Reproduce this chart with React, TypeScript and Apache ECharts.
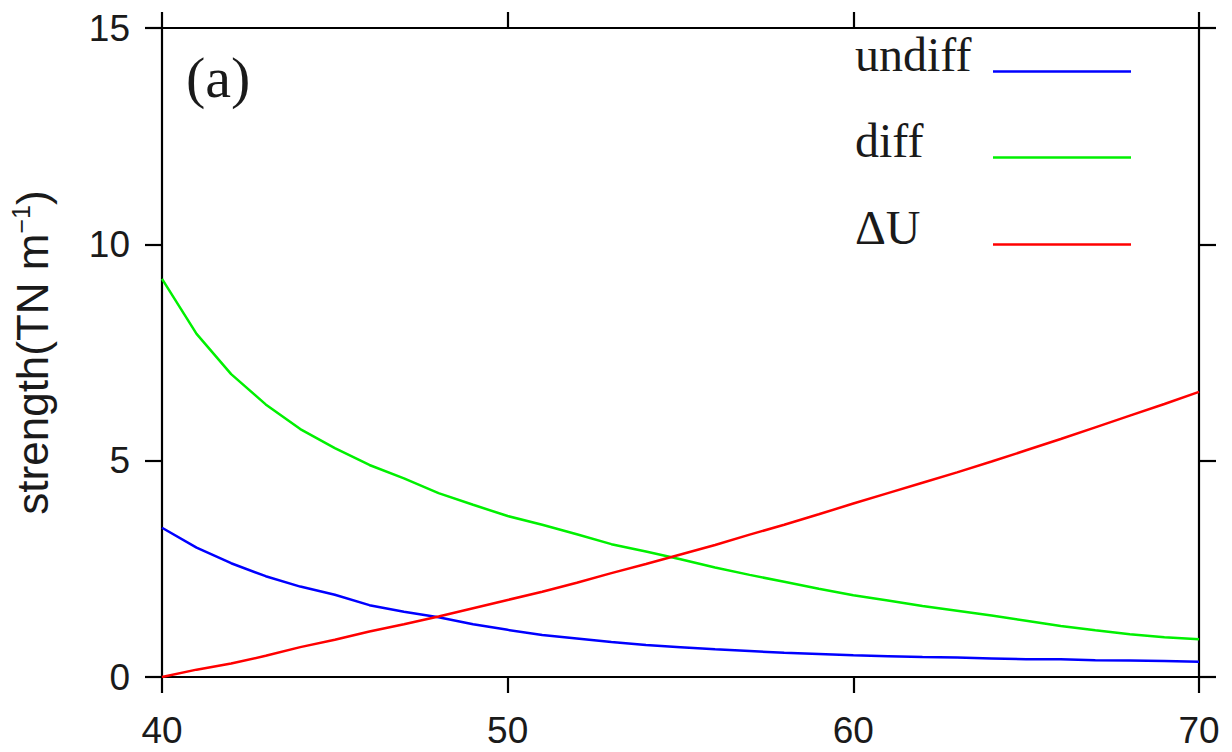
import React, { useEffect, useRef } from "react";
import * as echarts from "echarts";

// Latitude samples (x axis)
const latitudes: number[] = [
  40, 41, 42, 43, 44, 45, 46, 47, 48, 49, 50, 51, 52, 53, 54, 55, 56, 57, 58, 59,
  60, 61, 62, 63, 64, 65, 66, 67, 68, 69, 70,
];

// Strength values (TN m^-1)
const undiff: number[] = [
  3.45, 2.99, 2.63, 2.33, 2.09, 1.9, 1.66, 1.51, 1.38, 1.22, 1.09, 0.97, 0.89, 0.81,
  0.74, 0.69, 0.64, 0.6, 0.56, 0.53, 0.5, 0.48, 0.46, 0.45, 0.43, 0.41, 0.41, 0.39,
  0.38, 0.37, 0.35,
];
const diff: number[] = [
  9.2, 7.93, 7.0, 6.3, 5.73, 5.29, 4.9, 4.59, 4.25, 3.98, 3.72, 3.52, 3.3, 3.07, 2.9,
  2.72, 2.53, 2.36, 2.2, 2.04, 1.89, 1.77, 1.64, 1.53, 1.42, 1.3, 1.18, 1.08, 0.99,
  0.92, 0.87,
];
const deltaU: number[] = [
  0, 0.17, 0.31, 0.49, 0.69, 0.86, 1.05, 1.22, 1.4, 1.59, 1.78, 1.97, 2.18, 2.4, 2.61,
  2.83, 3.05, 3.29, 3.52, 3.76, 4.01, 4.25, 4.49, 4.73, 4.98, 5.24, 5.5, 5.77, 6.04,
  6.31, 6.59,
];

const seriesNames: string[] = ["undiff", "diff", "\u0394U"];
const seriesColors: string[] = ["#0000ff", "#00f000", "#ff0000"];
const seriesValues: number[][] = [undiff, diff, deltaU];

const xTicks = { min: 40, max: 70, interval: 10 };
const yTicks = { min: 0, max: 15, interval: 5 };
const yTitle = "{a|strength(TN m}{b|\u22121}{a|)}";
const panelTag = "(a)";

const SANS = "'Liberation Sans', Arial, Helvetica, sans-serif";
const SERIF = "'Liberation Serif', 'Times New Roman', serif";

export default function App() {
  const ref = useRef<HTMLDivElement>(null);

  useEffect(() => {
    if (!ref.current) return;
    const chart = echarts.init(ref.current, undefined, { renderer: "svg" });

    const grid = { left: 162, top: 28, right: 33, bottom: 75 };
    const axisLine = { show: true, onZero: false, lineStyle: { color: "#000", width: 2.2 } };
    const tick = (len: number) => ({
      show: true,
      inside: false,
      length: len,
      lineStyle: { color: "#000", width: 2.2 },
    });
    const labelStyle = { color: "#1a1a1a", fontSize: 37, fontFamily: SANS };

    // Legend block: label on the left, sample line on the right
    const legendLeft = 855;
    const lineX0 = 993;
    const lineX1 = 1131;
    const legendRows = [71.5, 157.5, 244.5];
    const legendGraphics: any[] = [];
    seriesNames.forEach((name, i) => {
      const yb = legendRows[i];
      legendGraphics.push({
        type: "text",
        x: legendLeft,
        y: yb - 17,
        style: {
          text: name,
          fill: "#1a1a1a",
          font: `48px ${SERIF}`,
          textAlign: "left",
          textVerticalAlign: "middle",
        },
        silent: true,
      });
      legendGraphics.push({
        type: "line",
        shape: { x1: lineX0, y1: yb, x2: lineX1, y2: yb },
        style: { stroke: seriesColors[i], lineWidth: 2.5 },
        silent: true,
      });
    });

    chart.setOption({
      animation: false,
      backgroundColor: "#ffffff",
      grid: { ...grid, containLabel: false },
      xAxis: [
        {
          type: "value",
          position: "bottom",
          ...xTicks,
          axisLine,
          axisTick: tick(16),
          axisLabel: { ...labelStyle, margin: 35 },
          splitLine: { show: false },
        },
        {
          type: "value",
          position: "top",
          ...xTicks,
          axisLine,
          axisTick: tick(16),
          axisLabel: { show: false },
          splitLine: { show: false },
        },
      ],
      yAxis: [
        {
          type: "value",
          position: "left",
          ...yTicks,
          axisLine,
          axisTick: tick(17),
          axisLabel: { ...labelStyle, margin: 32 },
          splitLine: { show: false },
          name: yTitle,
          nameLocation: "middle",
          nameRotate: 90,
          nameGap: 106,
          nameTextStyle: {
            rich: {
              a: { fontSize: 44, fontFamily: SANS, color: "#1a1a1a", lineHeight: 48 },
              b: {
                fontSize: 25,
                fontFamily: SANS,
                color: "#1a1a1a",
                verticalAlign: "top",
              },
            },
          },
        },
        {
          type: "value",
          position: "right",
          ...yTicks,
          axisLine,
          axisTick: tick(17),
          axisLabel: { show: false },
          splitLine: { show: false },
        },
      ],
      series: seriesNames.map((name, i) => ({
        name,
        type: "line",
        xAxisIndex: 0,
        yAxisIndex: 0,
        showSymbol: false,
        symbol: "none",
        smooth: false,
        lineStyle: { color: seriesColors[i], width: 2.5 },
        itemStyle: { color: seriesColors[i] },
        data: latitudes.map((x, k) => [x, seriesValues[i][k]]),
      })),
      graphic: [
        {
          type: "text",
          x: 186,
          y: 77,
          style: {
            text: panelTag,
            fill: "#1a1a1a",
            font: `58px ${SERIF}`,
            textAlign: "left",
            textVerticalAlign: "middle",
          },
          silent: true,
        },
        ...legendGraphics,
      ],
    });

    return () => chart.dispose();
  }, []);

  return (
    <div
      ref={ref}
      style={{ position: "absolute", left: 0, top: 0, width: 1232, height: 752 }}
    />
  );
}
